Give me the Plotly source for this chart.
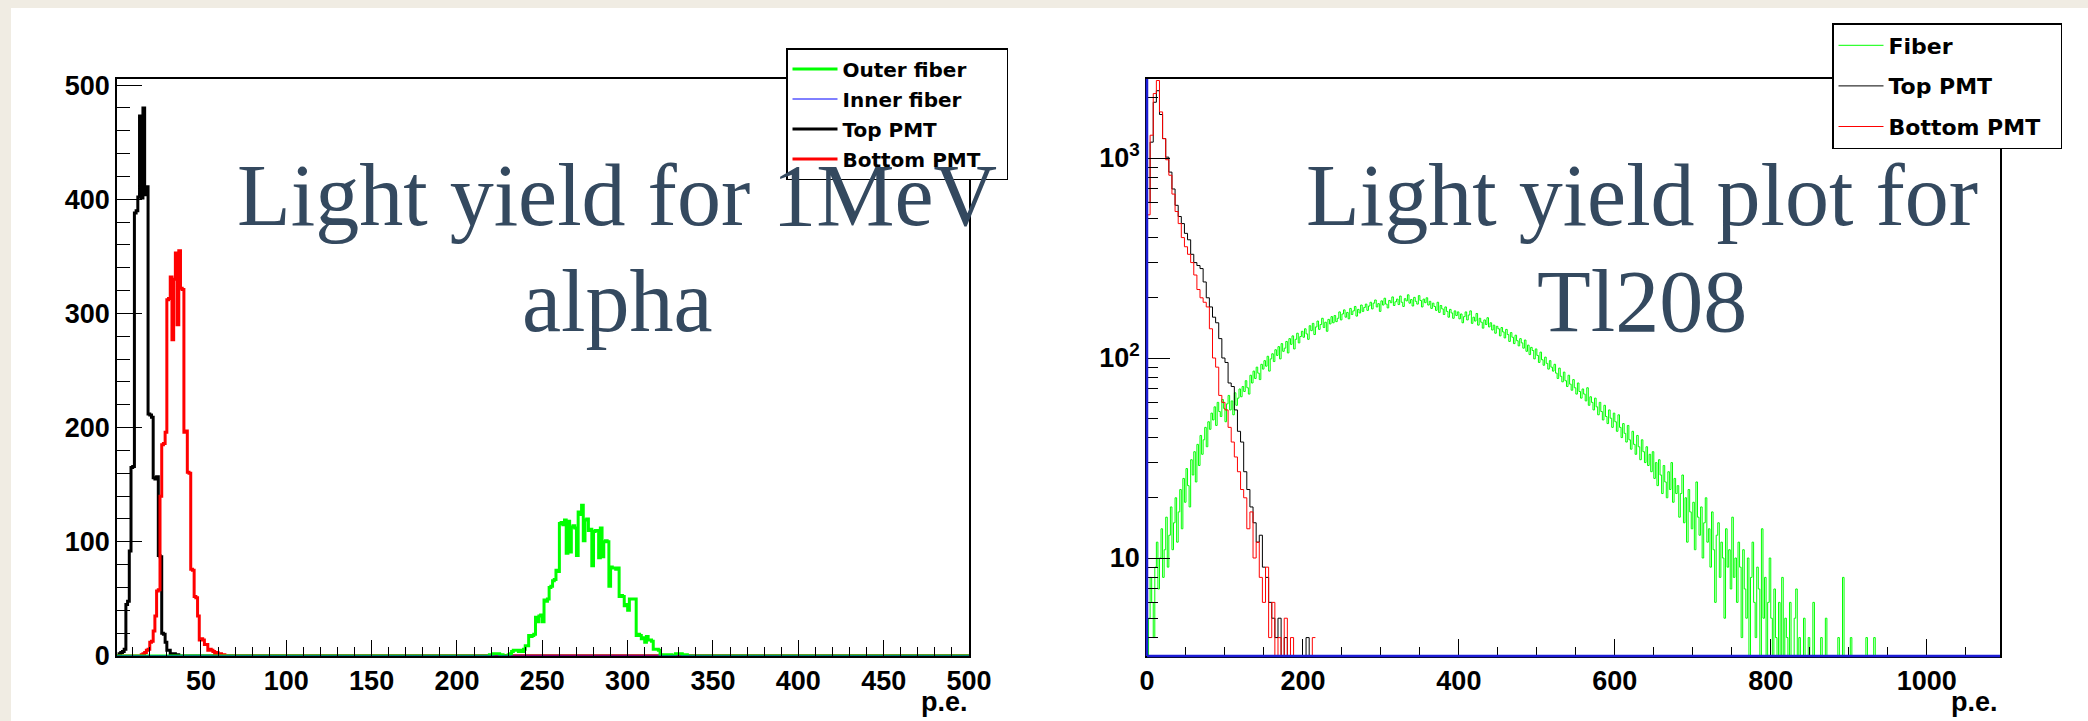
import plotly.graph_objects as go

W, H = 2088, 721

# ---------------- Left panel data (1 p.e. bins) ----------------
left_nbins = 500
left_bin_width = 1
left_top_pmt_start = 1
left_top_pmt_counts = [0, 2, 3, 4, 6, 45, 48, 92, 165, 166, 388, 390, 402, 473, 401, 480, 404, 411,
                       212, 211, 209, 156, 155, 157, 88, 87, 20, 19, 12, 5, 5, 2, 2, 2, 1, 1]
left_bottom_pmt_start = 15
left_bottom_pmt_counts = [1, 2, 3, 5, 6, 12, 13, 22, 35, 57, 58, 140, 185, 186, 196, 312, 313, 332,
                          277, 330, 353, 290, 355, 322, 321, 196, 197, 161, 160, 76, 75, 52, 51, 35,
                          14, 15, 14, 10, 10, 5, 6, 5, 4, 2, 3, 2, 2, 1, 1]
left_outer_fiber_start = 218
left_outer_fiber_counts = [0, 1, 1, 2, 2, 2, 2, 1, 1, 0, 0, 0, 1, 2, 4, 5, 5, 5, 4, 5, 4, 6, 9, 9,
                           18, 17, 18, 19, 34, 30, 35, 36, 30, 49, 48, 50, 60, 61, 66, 67, 75, 74,
                           116, 117, 115, 119, 90, 118, 91, 113, 114, 112, 88, 126, 124, 132, 101,
                           119, 120, 110, 111, 79, 109, 110, 110, 86, 112, 87, 100, 101, 100, 61,
                           78, 77, 77, 76, 77, 52, 53, 52, 44, 45, 40, 50, 50, 50, 50, 18, 19, 18,
                           15, 16, 12, 17, 14, 14, 13, 6, 6, 6, 5, 1, 1, 1, 1, 1, 1, 1, 0, 0, 2, 2,
                           2, 2, 1, 1, 1]
left_inner_fiber_start = 0
left_inner_fiber_counts = []
left_x_ticks = [50, 100, 150, 200, 250, 300, 350, 400, 450, 500]
left_y_ticks = [0, 100, 200, 300, 400, 500]

# ---------------- Right panel data ----------------
right_fiber_bin_width = 2
right_fiber_counts = [
    3, 5, 8, 6, 4, 9, 12, 7, 10, 14, 8, 11, 16, 9, 13, 18, 11, 15, 20, 12,
    17, 22, 14, 25, 19, 28, 23, 18, 31, 26, 34, 24, 37, 29, 41, 33, 39, 45, 36, 48,
    44, 53, 49, 57, 46, 60, 54, 51, 62, 56, 48, 59, 65, 55, 61, 52, 67, 58, 63, 70,
    64, 72, 68, 77, 71, 66, 82, 75, 86, 79, 90, 84, 78, 93, 88, 97, 91, 102, 86, 99,
    105, 96, 110, 103, 114, 99, 118, 108, 112, 121, 106, 125, 117, 129, 111, 124, 133, 119, 128, 136,
    127, 140, 132, 124, 145, 137, 149, 131, 143, 153, 139, 147, 158, 142, 151, 136, 156, 148, 161, 150,
    163, 152, 158, 170, 155, 166, 174, 160, 169, 157, 177, 165, 172, 181, 162, 175, 168, 184, 171, 179,
    186, 173, 182, 190, 176, 188, 195, 180, 187, 171, 193, 184, 199, 186, 178, 194, 189, 202, 183, 191,
    197, 185, 204, 190, 181, 198, 193, 207, 188, 196, 182, 201, 192, 186, 205, 194, 180, 197, 189, 200,
    184, 192, 177, 188, 181, 173, 190, 169, 183, 176, 165, 180, 171, 160, 175, 168, 158, 172, 163, 170,
    157, 166, 150, 161, 170, 155, 164, 172, 149, 160, 153, 167, 146, 158, 151, 141, 155, 147, 159, 143,
    150, 138, 146, 133, 144, 140, 129, 142, 135, 126, 139, 131, 121, 134, 127, 118, 130, 122, 115, 125,
    119, 112, 123, 108, 116, 104, 113, 109, 99, 111, 103, 95, 107, 98, 92, 101, 94, 88, 97, 90,
    86, 93, 84, 79, 89, 81, 76, 85, 77, 72, 82, 74, 69, 78, 71, 66, 75, 68, 63, 70,
    66, 61, 71, 58, 64, 60, 55, 63, 57, 52, 60, 54, 49, 58, 51, 47, 55, 50, 45, 53,
    48, 43, 52, 45, 40, 47, 42, 38, 46, 39, 35, 43, 37, 33, 41, 36, 31, 39, 34, 30,
    36, 29, 33, 27, 34, 25, 30, 23, 31, 26, 21, 29, 24, 20, 27, 22, 30, 19, 25, 21,
    23, 16, 21, 26, 15, 20, 12, 22, 17, 14, 19, 11, 24, 16, 13, 18, 10, 15, 20, 12,
    14, 9, 17, 11, 6, 13, 15, 8, 12, 10, 5, 14, 9, 11, 7, 16, 8, 10, 6, 12,
    9, 4, 11, 7, 5, 10, 3, 8, 12, 6, 4, 9, 7, 2, 14, 5, 8, 3, 6, 10,
    5, 2, 7, 4, 0, 6, 3, 8, 1, 5, 4, 2, 6, 0, 3, 5, 7, 1, 4, 2,
    0, 5, 3, 1, 4, 0, 2, 6, 0, 3, 1, 0, 4, 2, 0, 5, 0, 1, 3, 0,
    0, 2, 0, 4, 0, 0, 8, 0, 1, 0, 0, 4, 0, 0, 2, 0, 0, 0, 1, 0,
    0, 4, 0, 0, 0, 0, 4, 0, 0, 0,
]
right_pmt_bin_width = 4
right_top_pmt_counts = [600, 1200, 1900, 2170, 1650, 1250, 1010, 850, 700, 580,
                        510, 470, 420, 390, 330, 300, 290, 280, 240, 200,
                        180, 160, 150, 125, 100, 95, 75, 72, 55, 43,
                        38, 27, 22, 18, 15, 12, 13, 9, 8, 6,
                        5, 4, 5, 0, 4, 0, 0, 0, 0, 0,
                        0, 4, 0]
right_bottom_pmt_counts = [520, 1300, 2100, 2440, 1700, 1250, 980, 820, 660, 540,
                           470, 400, 360, 330, 300, 260, 220, 200, 190, 180,
                           140, 100, 90, 65, 60, 55, 45, 38, 32, 27,
                           22, 20, 14, 17, 10, 12, 8, 6, 9, 4,
                           6, 0, 4, 0, 5, 0, 4, 0, 0, 0,
                           0, 0, 0, 4]
right_x_ticks = [0, 200, 400, 600, 800, 1000]
right_y_ticks = [10, 100, 1000]
right_y_ticktext = ["10", "10<sup>2</sup>", "10<sup>3</sup>"]

# ---------------- helpers ----------------
def full_counts(start, counts, nbins):
    arr = [0] * nbins
    for i, c in enumerate(counts):
        arr[start + i] = c
    return arr

def step_xy(counts, width, floor=None):
    xs = [i * width for i in range(len(counts) + 1)]
    ys = list(counts) + [counts[-1]]
    if floor is not None:
        ys = [v if v > 0 else floor for v in ys]
    return xs, ys

NBSP = "\u00a0"
TITLE_COLOR = "#34495f"
AX_FONT = dict(family="Liberation Sans", size=27, color="black", weight="bold")

fig = go.Figure()

left_series = [
    ("Top PMT", left_top_pmt_start, left_top_pmt_counts, "black", 3, 3),
    ("Bottom PMT", left_bottom_pmt_start, left_bottom_pmt_counts, "#ff0000", 3, 4),
    ("Outer fiber", left_outer_fiber_start, left_outer_fiber_counts, "#00ff00", 3, 1),
    ("Inner fiber", left_inner_fiber_start, left_inner_fiber_counts, "#0000ff", 1, 2),
]
for name, start, counts, color, lw, rank in left_series:
    xs, ys = step_xy(full_counts(start, counts, left_nbins), left_bin_width)
    fig.add_trace(go.Scatter(x=xs, y=ys, mode="lines", line=dict(color=color, width=lw, shape="hv"),
                             name=name + NBSP * 3, legend="legend", legendrank=rank,
                             legendgroup="L" + name, xaxis="x", yaxis="y", hoverinfo="skip"))

right_series = [
    ("Fiber", right_fiber_counts, right_fiber_bin_width, "#00ff00"),
    ("Top PMT", right_top_pmt_counts, right_pmt_bin_width, "black"),
    ("Bottom PMT", right_bottom_pmt_counts, right_pmt_bin_width, "#ff0000"),
]
for name, counts, bw, color in right_series:
    xs, ys = step_xy(counts, bw, floor=0.1)
    fig.add_trace(go.Scatter(x=xs, y=ys, mode="lines", line=dict(color=color, width=1, shape="hv"),
                             name=name + NBSP * 2, legend="legend2", legendgroup="R" + name,
                             xaxis="x2", yaxis="y2", hoverinfo="skip"))

ydom = [1 - 656 / H, 1 - 79 / H]
common = dict(showline=True, linecolor="black", linewidth=1.5, mirror=True, ticks="inside",
              tickcolor="black", tickwidth=1, showgrid=False, zeroline=False, tickfont=AX_FONT,
              automargin=False)

fig.update_layout(
    template="none",
    width=W, height=H, autosize=False,
    margin=dict(l=0, r=0, t=0, b=0, pad=0, autoexpand=False),
    paper_bgcolor="#f0ece3", plot_bgcolor="white",
    xaxis=dict(domain=[117 / W, 969 / W], range=[0.8, 500], tickmode="array", tickvals=left_x_ticks,
               ticklen=16, minor=dict(dtick=10, tick0=0, ticks="inside", ticklen=9, tickcolor="black"),
               anchor="y", **common),
    yaxis=dict(domain=ydom, range=[0, 505.3], tickmode="array", tickvals=left_y_ticks, ticklen=25,
               minor=dict(dtick=20, tick0=0, ticks="inside", ticklen=13, tickcolor="black"),
               anchor="x", **common),
    xaxis2=dict(domain=[1147 / W, 2000 / W], range=[0, 1094], tickmode="array", tickvals=right_x_ticks,
                ticklen=17, minor=dict(dtick=50, tick0=0, ticks="inside", ticklen=9, tickcolor="black"),
                anchor="y2", **common),
    yaxis2=dict(domain=ydom, type="log", range=[0.51, 3.395], tickmode="array", tickvals=right_y_ticks,
                ticktext=right_y_ticktext, ticklen=23,
                minor=dict(tickmode="array",
                           tickvals=[4, 5, 6, 7, 8, 9, 20, 30, 40, 50, 60, 70, 80, 90,
                                     200, 300, 400, 500, 600, 700, 800, 900, 2000],
                           ticks="inside", ticklen=11, tickcolor="black"),
                anchor="x2", **common),
    legend=dict(x=786 / W, y=1 - 48 / H, xanchor="left", yanchor="top", bgcolor="white",
                bordercolor="black", borderwidth=1.5, tracegroupgap=1, itemwidth=45,
                font=dict(family="DejaVu Sans", size=20, color="black", weight="bold")),
    legend2=dict(x=1832 / W, y=1 - 23 / H, xanchor="left", yanchor="top", bgcolor="white",
                 bordercolor="black", borderwidth=1.5, tracegroupgap=9, itemwidth=45,
                 font=dict(family="DejaVu Sans", size=22, color="black", weight="bold")),
    showlegend=True,
)

fig.add_shape(type="rect", xref="paper", yref="paper", x0=11 / W, x1=1, y0=0, y1=1 - 8 / H,
              fillcolor="white", line=dict(width=0), layer="below")
for (x0, y0, x1, y1) in [(0, 0, 1, 0), (0, 0, 0, 1)]:
    fig.add_shape(type="line", xref="x2 domain", yref="y2 domain", x0=x0, y0=y0, x1=x1, y1=y1,
                  line=dict(color="#1c1cd6", width=2.5))

for xr in [970, 2000]:
    fig.add_annotation(text="p.e.", xref="paper", yref="paper", x=xr / W, y=1 - 702 / H,
                       xanchor="right", yanchor="middle", showarrow=False,
                       font=dict(family="Liberation Sans", size=27, color="black", weight="bold"))

titles = [
    ("Light yield for 1MeV", 617, 195), ("alpha", 617, 301),
    ("Light yield plot for", 1642, 195), ("Tl208", 1642, 301),
]
for txt, cx, cy in titles:
    fig.add_annotation(text=txt, xref="paper", yref="paper", x=cx / W, y=1 - cy / H,
                       xanchor="center", yanchor="middle", showarrow=False,
                       font=dict(family="Liberation Serif", size=88, color=TITLE_COLOR))

fig.write_html("out.html", config={"displayModeBar": False, "responsive": False},
               post_script="document.body.style.margin='0px';document.body.style.overflow='hidden';")
